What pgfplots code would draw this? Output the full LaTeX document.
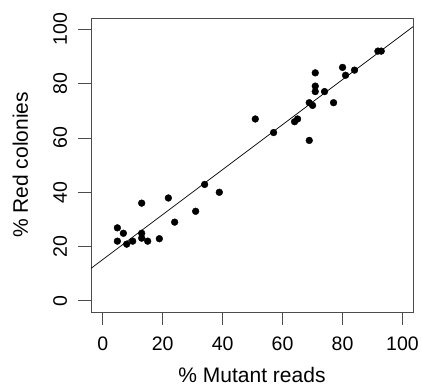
\documentclass[border=0pt]{standalone}
\usepackage{pgfplots}
\pgfplotsset{compat=1.18}
\usepackage{fontspec}
\setmainfont{Liberation Sans}
\begin{document}
\begin{tikzpicture}
\path[use as bounding box] (-91pt,-73pt) rectangle (331pt,312pt);
\begin{axis}[
  at={(0pt,0pt)}, anchor=south west,
  scale only axis, width=322pt, height=294pt,
  xmin=-3.9, xmax=103.5, ymin=-4.1, ymax=104.2,
  xtick={0,20,...,100}, ytick={0,20,...,100},
  xtick pos=bottom, ytick pos=left,
  tick align=outside, major tick length=13pt,
  axis line style={black!70, line width=0.8pt},
  every tick/.style={black!70, line width=0.8pt},
  tick label style={font=\fontsize{19.5}{22}\selectfont},
  label style={font=\fontsize{21}{24}\selectfont},
  /pgf/number format/assume math mode=true,
  xticklabel style={anchor=base, inner sep=0pt, yshift=-25pt},
  yticklabel style={anchor=base, inner sep=0pt, rotate=90, yshift=11pt},
  xlabel={\% Mutant reads}, ylabel={\% Red colonies},
  xlabel style={at={(axis description cs:0.5,0)}, anchor=base, inner sep=0pt, yshift=-70pt},
  ylabel style={at={(axis description cs:0,0.5)}, anchor=base, inner sep=0pt, yshift=63pt},
  clip=false,
]
\addplot[black, line width=0.7pt] coordinates {(-3.9,11.97) (103.5,101.0)};
\addplot[only marks, mark=*, mark size=3.4pt, black] coordinates {
(4.9,26.9) (4.9,22.0) (6.9,24.9) (8.0,20.9) (10.0,22.0)
(13.0,36.0) (13.0,24.9) (13.0,23.1) (15.0,22.0) (18.9,22.9)
(21.9,37.9) (24.0,29.0) (31.0,33.0) (34.0,42.9) (38.9,40.0)
(50.9,67.0) (57.0,62.0) (64.0,66.0) (65.0,67.0) (68.9,73.0)
(68.9,59.1) (70.0,72.0) (70.9,84.0) (70.9,79.1) (70.9,77.1)
(74.0,77.1) (77.0,73.0) (80.0,86.0) (81.0,83.1) (84.0,85.0)
(91.8,92.0) (92.9,92.0)
};
\end{axis}
\end{tikzpicture}
\end{document}
